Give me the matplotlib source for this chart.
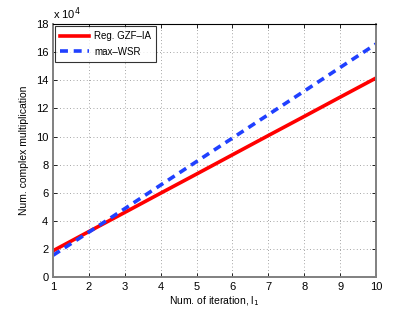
import numpy as np
import matplotlib
matplotlib.use('Agg')
import matplotlib.pyplot as plt

plt.rcParams['font.family'] = ['Liberation Sans', 'DejaVu Sans']

iters = [1, 2, 3, 4, 5, 6, 7, 8, 9, 10]
# values in units of 1e4
reg_gzf_ia = [1.87, 3.24, 4.60, 5.97, 7.33, 8.70, 10.07, 11.43, 12.80, 14.16]
max_wsr = [1.55, 3.20, 4.87, 6.55, 8.22, 9.89, 11.56, 13.23, 14.91, 16.58]

fig = plt.figure(figsize=(4.15, 3.13), dpi=100)
ax = fig.add_axes([0.128, 0.115, 0.778, 0.808])

ax.plot(iters, reg_gzf_ia, color='#ff0000', lw=2.6, label='Reg. GZF\u2013IA')
ax.plot(iters, max_wsr, color='#2040ff', lw=2.6, ls=(0, (2.2, 1.6)), label='max\u2013WSR')

ax.set_xlim(1, 10)
ax.set_ylim(0, 18)
ax.set_xticks(range(1, 11))
ax.set_yticks(range(0, 19, 2))
ax.tick_params(direction='in', labelsize=8, length=3, width=0.6, top=True, right=True)
ax.grid(True, ls=(0, (1, 3)), color='#888888', lw=0.6)

for side in ['left', 'bottom', 'right']:
    ax.spines[side].set_color('#808080')
    ax.spines[side].set_linewidth(1.4)
ax.spines['top'].set_color('black')
ax.spines['top'].set_linewidth(0.8)

ax.text(0.0, 1.01, 'x 10$^{4}$', transform=ax.transAxes, fontsize=8, ha='left', va='bottom')

ax.set_xlabel('Num. of iteration, l$_1$', fontsize=7.5, labelpad=2)
ax.set_ylabel('Num. complex multiplication', fontsize=7.5, labelpad=5)

leg = ax.legend(loc='upper left', fontsize=7, frameon=True, fancybox=False,
                edgecolor='black', borderaxespad=0.2, handlelength=3.0,
                handletextpad=0.5, borderpad=0.5, labelspacing=0.6)
leg.get_frame().set_linewidth(0.8)

fig.savefig('out.png', dpi=100)
